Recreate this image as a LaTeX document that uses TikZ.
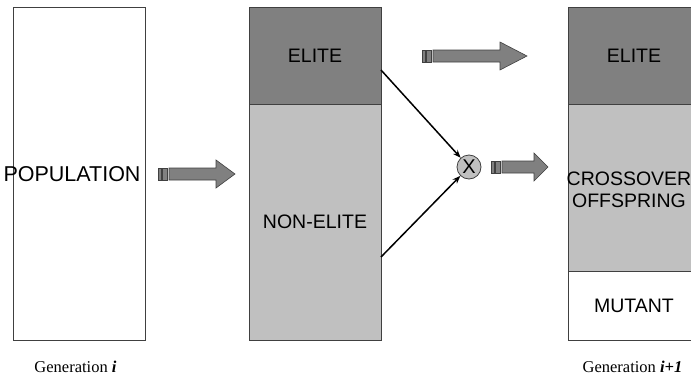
\documentclass[tikz,border=0pt]{standalone}
\usepackage{fontspec}
\setmainfont{Liberation Serif}
\setsansfont{Liberation Sans}
\usetikzlibrary{arrows.meta}
\definecolor{gray1}{RGB}{128, 128, 128}
\definecolor{gray2}{RGB}{192, 192, 192}
\definecolor{line1}{RGB}{64, 64, 64}

% fat arrow: tail x, y, head base x, tip x
\newcommand{\fatarrow}[4]{%
  \filldraw[fill=gray1,draw=line1,line width=.6pt] (#1,#2-6) rectangle (#1+3,#2+6);
  \filldraw[fill=gray1,draw=line1,line width=.6pt] (#1+4.5,#2-6) rectangle (#1+9,#2+6);
  \filldraw[fill=gray1,draw=line1,line width=.6pt] (#1+11,#2-6) -- (#3,#2-6) -- (#3,#2-14)
    -- (#4,#2) -- (#3,#2+14) -- (#3,#2+6) -- (#1+11,#2+6) -- cycle;
}

\begin{document}
\begin{tikzpicture}[x=1pt, y=-1pt, line width=.8pt,
  box/.style={draw=line1, rectangle, minimum width=132pt, inner sep=0pt,
    font=\sffamily\fontsize{19.5}{22}\selectfont, align=center},
  lbl/.style={font=\sffamily\fontsize{19.5}{22}\selectfont, align=center, inner sep=0pt},
  gen/.style={font=\fontsize{16.5}{19}\selectfont}]
  \clip (0,0) rectangle (691,380);

  \node[box, minimum height=333pt] (pop) at (79,173.5) {};
  \node[lbl, font=\sffamily\fontsize{21.5}{24}\selectfont] (poptext) at (72,174) {POPULATION};

  \node[box, fill=gray1, minimum height=97pt] (elite1) at (315,55.5) {ELITE};
  \node[box, fill=gray2, minimum height=236pt] (nonelite) at (315,222) {NON-ELITE};

  \node[box, fill=gray1, minimum height=97pt] (elite2) at (634,55.5) {ELITE};
  \node[box, fill=gray2, minimum height=167pt] (cross) at (634,187.5) {};
  \node[lbl] (crosstext) at (629,190) {CROSSOVER\\OFFSPRING};
  \node[box, fill=white, minimum height=69pt] (mutant) at (634,305.5) {MUTANT};

  \node[circle, draw=line1, fill=gray2, minimum size=24pt, inner sep=0pt,
    font=\sffamily\fontsize{20}{22}\selectfont] (mix) at (469,167) {X};

  \coordinate (e1) at (381,70);
  \coordinate (n1) at (381,257);
  \foreach \from/\to in {e1/mix, n1/mix}
    \draw[line width=1.5pt, -{Stealth[length=8pt,width=6pt]}] (\from) -- (\to);

  \fatarrow{158}{174}{216}{235}
  \fatarrow{422}{56}{500}{527}
  \fatarrow{491}{167}{534}{548}

  \node[gen] (geni) at (75.5,367) {Generation \textbf{\textit{i}}};
  \node[gen] (genj) at (632.5,367) {Generation \textbf{\textit{i+1}}};
\end{tikzpicture}
\end{document}
